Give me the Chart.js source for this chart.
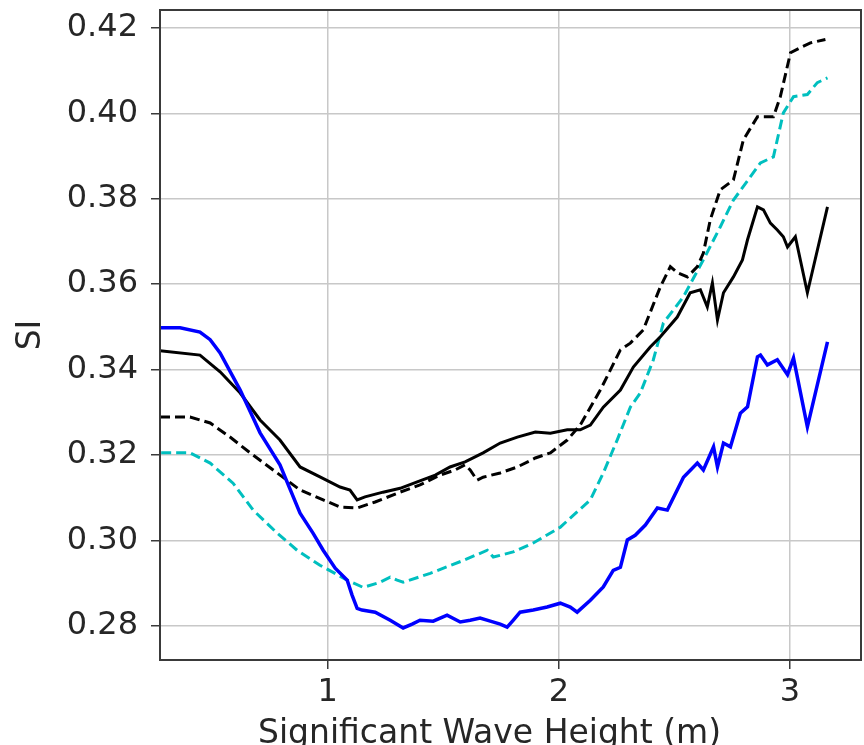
<!DOCTYPE html>
<html>
<head>
<meta charset="utf-8">
<script src="https://cdn.jsdelivr.net/npm/chart.js@4/dist/chart.umd.min.js"></script>
<style>
  html, body { margin: 0; padding: 0; background: #fff; }
  #wrap { width: 864px; height: 745px; }
</style>
</head>
<body>
<div id="wrap"><canvas id="siChart"></canvas></div>
<script>
// Scatter index vs significant wave height
const xTicks = [1, 2, 3];
const yTicks = [0.28, 0.30, 0.32, 0.34, 0.36, 0.38, 0.40, 0.42];

const blueHs = [0.274, 0.361, 0.447, 0.491, 0.534, 0.621, 0.707, 0.793, 0.880, 0.936, 0.980, 1.032, 1.084, 1.105, 1.127, 1.148, 1.205, 1.270, 1.326, 1.365, 1.399, 1.456, 1.516, 1.573, 1.616, 1.659, 1.703, 1.746, 1.776, 1.802, 1.832, 1.889, 1.949, 2.006, 2.049, 2.079, 2.136, 2.192, 2.235, 2.266, 2.296, 2.330, 2.374, 2.426, 2.469, 2.539, 2.599, 2.625, 2.669, 2.686, 2.712, 2.742, 2.785, 2.816, 2.859, 2.872, 2.902, 2.945, 2.989, 3.015, 3.075, 3.162];
const blueSI = [0.3498, 0.3498, 0.3488, 0.3470, 0.3439, 0.3352, 0.3252, 0.3177, 0.3064, 0.3017, 0.2977, 0.2935, 0.2907, 0.2872, 0.2841, 0.2837, 0.2832, 0.2813, 0.2795, 0.2804, 0.2813, 0.2811, 0.2825, 0.2809, 0.2813, 0.2818, 0.2811, 0.2804, 0.2797, 0.2813, 0.2832, 0.2837, 0.2844, 0.2853, 0.2844, 0.2832, 0.2860, 0.2891, 0.2930, 0.2937, 0.3001, 0.3012, 0.3036, 0.3076, 0.3071, 0.3148, 0.3181, 0.3165, 0.3219, 0.3172, 0.3228, 0.3219, 0.3298, 0.3313, 0.3430, 0.3434, 0.3411, 0.3423, 0.3388, 0.3427, 0.3266, 0.3465];

const blackHs = [0.274, 0.447, 0.534, 0.621, 0.707, 0.793, 0.880, 0.966, 1.053, 1.096, 1.127, 1.161, 1.239, 1.313, 1.387, 1.465, 1.529, 1.594, 1.672, 1.746, 1.820, 1.898, 1.963, 2.036, 2.092, 2.136, 2.192, 2.266, 2.322, 2.395, 2.439, 2.512, 2.568, 2.612, 2.642, 2.664, 2.686, 2.712, 2.755, 2.794, 2.816, 2.859, 2.885, 2.915, 2.945, 2.971, 2.989, 3.023, 3.075, 3.162];
const blackSI = [0.3444, 0.3434, 0.3395, 0.3345, 0.3282, 0.3235, 0.3172, 0.3149, 0.3125, 0.3118, 0.3095, 0.3102, 0.3113, 0.3122, 0.3137, 0.3153, 0.3172, 0.3184, 0.3205, 0.3228, 0.3242, 0.3254, 0.3251, 0.3259, 0.3259, 0.3270, 0.3312, 0.3352, 0.3406, 0.3453, 0.3477, 0.3523, 0.3580, 0.3587, 0.3547, 0.3603, 0.3516, 0.3580, 0.3617, 0.3657, 0.3704, 0.3781, 0.3774, 0.3743, 0.3727, 0.3711, 0.3687, 0.3711, 0.3580, 0.3781];

const dashHs = [0.274, 0.404, 0.491, 0.577, 0.664, 0.781, 0.880, 0.980, 1.053, 1.127, 1.205, 1.313, 1.399, 1.486, 1.551, 1.594, 1.616, 1.646, 1.672, 1.746, 1.820, 1.898, 1.963, 2.036, 2.092, 2.179, 2.266, 2.309, 2.365, 2.439, 2.482, 2.512, 2.556, 2.599, 2.625, 2.655, 2.698, 2.755, 2.798, 2.859, 2.928, 2.958, 3.002, 3.045, 3.088, 3.153];
const dashSI = [0.3289, 0.3289, 0.3275, 0.3242, 0.3205, 0.3158, 0.3118, 0.3095, 0.3078, 0.3076, 0.3090, 0.3113, 0.3130, 0.3153, 0.3165, 0.3177, 0.3165, 0.3141, 0.3148, 0.3158, 0.3172, 0.3193, 0.3205, 0.3235, 0.3270, 0.3352, 0.3446, 0.3462, 0.3493, 0.3594, 0.3641, 0.3627, 0.3617, 0.3641, 0.3673, 0.3751, 0.3821, 0.3844, 0.3938, 0.3992, 0.3992, 0.4039, 0.4142, 0.4154, 0.4165, 0.4173];

const cyanHs = [0.279, 0.404, 0.491, 0.590, 0.677, 0.781, 0.867, 0.966, 1.084, 1.153, 1.226, 1.270, 1.300, 1.326, 1.443, 1.586, 1.690, 1.716, 1.802, 1.889, 2.006, 2.136, 2.192, 2.252, 2.309, 2.352, 2.408, 2.452, 2.538, 2.625, 2.698, 2.755, 2.828, 2.872, 2.928, 2.971, 3.015, 3.075, 3.118, 3.162];
const cyanSI = [0.3205, 0.3205, 0.3181, 0.3134, 0.3071, 0.3017, 0.2977, 0.2942, 0.2907, 0.2890, 0.2902, 0.2914, 0.2907, 0.2902, 0.2923, 0.2953, 0.2977, 0.2961, 0.2973, 0.2994, 0.3031, 0.3095, 0.3158, 0.3235, 0.3312, 0.3345, 0.3422, 0.3509, 0.3570, 0.3657, 0.3734, 0.3797, 0.3851, 0.3884, 0.3898, 0.4001, 0.4039, 0.4044, 0.4072, 0.4083];

function pts(xs, ys) {
    return xs.map((x, i) => ({ x: x, y: ys[i] }));
}

const tickFont = { family: 'DejaVu Sans', size: 32 };

// box around the plot area like matplotlib's spines
const frame = {
    id: 'frame',
    afterDraw(chart) {
        const a = chart.chartArea;
        const ctx = chart.ctx;
        ctx.save();
        ctx.strokeStyle = '#3a3a3a';
        ctx.lineWidth = 2;
        ctx.strokeRect(a.left, a.top, a.right - a.left, a.bottom - a.top);
        ctx.restore();
    }
};

const ctx = document.getElementById('siChart').getContext('2d');
new Chart(ctx, {
    type: 'line',
    data: {
        datasets: [
            { data: pts(blueHs, blueSI), borderColor: '#0000ff', borderWidth: 3.5 },
            { data: pts(blackHs, blackSI), borderColor: '#000000', borderWidth: 3 },
            { data: pts(dashHs, dashSI), borderColor: '#000000', borderWidth: 3, borderDash: [10, 5] },
            { data: pts(cyanHs, cyanSI), borderColor: '#00bfbf', borderWidth: 3, borderDash: [10, 5] }
        ]
    },
    options: {
        responsive: true,
        maintainAspectRatio: false,
        animation: false,
        layout: { padding: { top: 10, right: 3, left: 0, bottom: 0 } },
        elements: { point: { radius: 0 }, line: { tension: 0, fill: false } },
        plugins: {
            legend: { display: false },
            tooltip: { enabled: false }
        },
        scales: {
            x: {
                type: 'linear',
                min: 0.274,
                max: 3.307,
                afterFit: (s) => { s.height = 85; s.paddingLeft = 0; s.paddingRight = 0; },
                afterBuildTicks: (s) => { s.ticks = xTicks.map(v => ({ value: v })); },
                ticks: { font: tickFont, color: '#262626', padding: 4, callback: (v) => String(v) },
                grid: { color: '#c8c8c8', lineWidth: 1.5, tickColor: '#3a3a3a', tickLength: 9 },
                border: { display: false },
                title: {
                    display: true,
                    text: 'Significant Wave Height (m)    ',
                    font: { family: 'DejaVu Sans', size: 33, lineHeight: 1 },
                    color: '#262626',
                    padding: { top: 0, bottom: -6 }
                }
            },
            y: {
                min: 0.272,
                max: 0.4242,
                afterFit: (s) => { s.width = 160; s.paddingTop = 0; s.paddingBottom = 0; },
                afterBuildTicks: (s) => { s.ticks = yTicks.map(v => ({ value: v })); },
                ticks: { font: tickFont, color: '#262626', padding: 13, callback: (v) => v.toFixed(2) },
                grid: { color: '#c8c8c8', lineWidth: 1.5, tickColor: '#3a3a3a', tickLength: 9 },
                border: { display: false },
                title: {
                    display: true,
                    text: 'SI',
                    font: { family: 'DejaVu Sans', size: 33, lineHeight: 1 },
                    color: '#262626',
                    padding: { top: 15, bottom: 0 }
                }
            }
        }
    },
    plugins: [frame]
});
</script>
</body>
</html>
